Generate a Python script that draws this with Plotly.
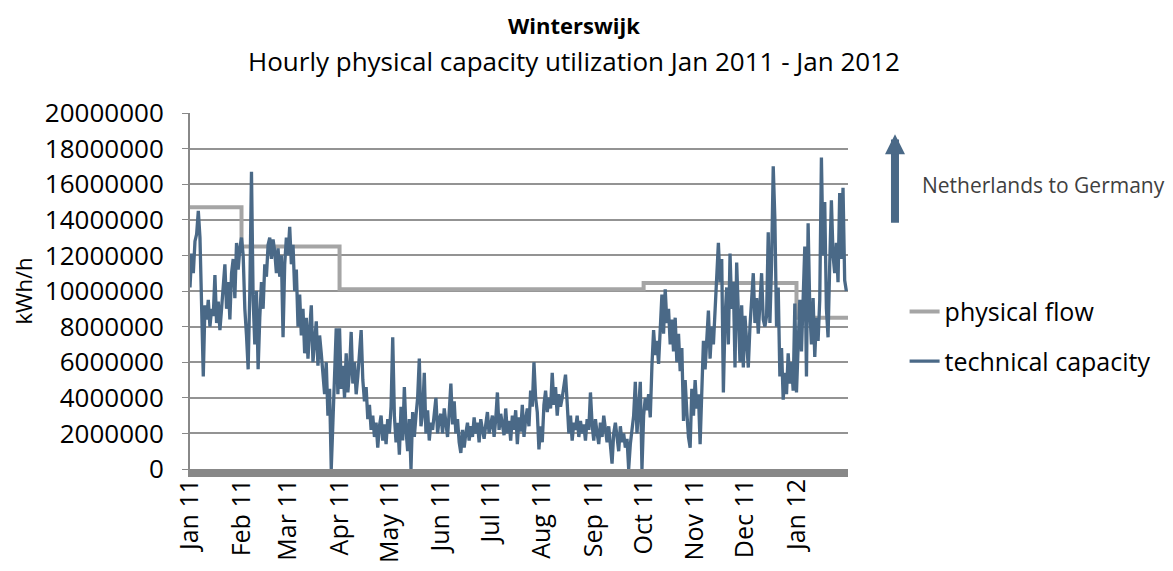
import pandas as pd
import plotly.graph_objects as go

# daily readings, million kWh/h, one list per month
jan11 = [10.2, 12.1, 11.0, 12.8, 13.2, 14.5, 13.0,
         8.0, 5.2, 9.2, 8.4, 9.5, 8.0, 9.0,
         8.6, 10.9, 8.2, 9.4, 7.8, 9.0, 10.2,
         11.5, 9.0, 10.5, 8.4, 11.0, 11.8, 9.6,
         12.7, 11.2, 12.4]
feb11 = [13.0, 12.0, 9.0, 7.5, 5.6, 10.0, 16.7,
         9.5, 7.0, 10.0, 5.6, 8.5, 10.5, 9.0,
         11.5, 10.8, 12.6, 13.0, 11.8, 12.9, 12.2,
         11.0, 12.4, 10.8, 12.0, 7.4, 11.5, 13.0]
mar11 = [12.0, 13.6, 11.5, 12.6, 10.0, 11.2, 8.0,
         9.8, 7.5, 9.0, 6.5, 8.5, 6.2, 7.8,
         9.2, 6.0, 7.0, 8.3, 5.8, 7.5, 6.5,
         5.5, 4.2, 6.0, 3.0, 4.5, 0.0, 2.6,
         5.0, 7.9, 4.2]
apr11 = [7.9, 4.5, 5.8, 4.0, 6.5, 4.3, 5.5,
         7.7, 4.8, 6.0, 4.2, 5.2, 6.5, 7.8,
         5.0, 3.8, 4.6, 2.8, 3.6, 2.2, 3.0,
         1.8, 2.6, 1.2, 2.4, 3.0, 1.6, 2.5,
         1.4, 2.8]
may11 = [2.0, 3.5, 7.4, 3.0, 1.5, 2.6, 0.8,
         3.5, 1.6, 4.6, 2.2, 1.0, 2.8, 0.0,
         3.2, 1.8, 3.0, 4.0, 6.2, 2.4, 3.1,
         5.4, 2.0, 3.3, 1.6, 2.6, 2.2, 3.0,
         4.0, 2.0, 2.8]
jun11 = [3.1, 2.0, 3.4, 2.6, 1.8, 3.2, 4.8,
         2.5, 3.8, 2.0, 2.8, 1.5, 0.9, 2.2,
         1.2, 2.0, 2.6, 1.6, 2.4, 1.8, 2.9,
         2.0, 2.6, 1.5, 2.8, 2.2, 1.7, 2.5,
         3.2, 2.0]
jul11 = [2.6, 3.0, 1.8, 2.8, 4.3, 2.2, 3.1,
         2.4, 1.9, 3.4, 2.0, 2.7, 1.6, 3.0,
         2.2, 3.3, 1.4, 2.9, 2.1, 3.6, 1.8,
         2.8, 3.4, 2.4, 4.4, 3.5, 6.0, 4.0,
         3.2, 1.1, 2.4]
aug11 = [1.5, 3.6, 4.4, 3.2, 4.0, 3.4, 5.4,
         3.6, 4.6, 3.0, 4.2, 3.5, 4.0, 4.8,
         5.3, 3.7, 2.0, 3.0, 1.6, 2.6, 2.2,
         3.0, 1.8, 2.7, 2.0, 2.5, 1.6, 2.8,
         2.2, 4.3, 2.5]
sep11 = [1.6, 2.8, 2.0, 1.4, 2.6, 1.8, 3.0,
         2.2, 1.5, 2.4, 1.2, 0.3, 2.0, 2.6,
         1.8, 1.0, 2.4, 1.5, 2.0, 1.2, 1.7,
         0.0, 1.4, 2.3, 3.0, 4.9, 2.0, 3.4,
         4.9, 0.0]
oct11 = [3.0, 4.0, 3.3, 4.2, 2.9, 5.8, 7.8,
         6.4, 7.2, 5.9, 8.0, 9.8, 7.6, 10.1,
         8.2, 9.0, 7.0, 8.4, 6.6, 8.5, 6.0,
         7.6, 5.5, 6.8, 2.7, 5.0, 3.2, 1.8,
         1.2, 4.5, 3.0]
nov11 = [5.0, 3.4, 4.2, 1.4, 4.8, 7.2, 5.6,
         7.5, 8.9, 6.2, 8.0, 7.0, 9.0, 11.0,
         12.7, 10.5, 11.8, 4.3, 8.5, 10.2, 7.0,
         12.1, 9.0, 10.5, 5.7, 11.6, 8.4, 6.0,
         9.2, 5.7]
dec11 = [8.6, 7.4, 5.7, 8.0, 9.5, 11.0, 8.2,
         9.6, 7.6, 9.0, 11.0, 8.4, 8.0, 8.6,
         13.3, 8.2, 11.5, 17.0, 14.0, 8.0, 10.2,
         5.2, 6.8, 3.9, 5.4, 4.2, 6.5, 4.8,
         6.0, 4.4, 9.3]
jan12 = [4.3, 7.0, 9.5, 6.6, 10.4, 12.5, 5.2,
         13.8, 9.0, 7.0, 9.6, 6.3, 8.5, 7.2,
         9.5, 17.5, 12.0, 15.0, 9.0, 7.4, 11.5,
         15.1, 12.0, 11.0, 12.7, 10.5, 15.5, 11.8,
         15.8, 10.6, 10.0]

# step line levels (million kWh/h)
step_dates = ['2011-01-01', '2011-02-01', '2011-04-01', '2011-10-01', '2012-01-01', '2012-02-01']
step_levels = [14.7, 12.5, 10.1, 10.45, 8.5, 8.5]

month_ticks = pd.date_range('2011-01-01', '2012-01-01', freq='MS')
month_labels = ['Jan 11', 'Feb 11', 'Mar 11', 'Apr 11', 'May 11', 'Jun 11', 'Jul 11',
                'Aug 11', 'Sep 11', 'Oct 11', 'Nov 11', 'Dec 11', 'Jan 12']

months = [jan11, feb11, mar11, apr11, may11, jun11, jul11, aug11, sep11, oct11, nov11, dec11, jan12]
daily = [v * 1e6 for m in months for v in m]
days = pd.date_range('2011-01-01', periods=len(daily), freq='D')

BLUE = '#4a6987'
GREY = '#a5a5a5'
FONT = 'Open Sans'

fig = go.Figure()
fig.add_trace(go.Scatter(x=step_dates, y=[v * 1e6 for v in step_levels], mode='lines',
                         line=dict(color=GREY, width=4, shape='hv'),
                         name='physical flow', legendgroup='a'))
fig.add_trace(go.Scatter(x=days, y=daily, mode='lines',
                         line=dict(color=BLUE, width=3.3),
                         name='technical capacity', legendgroup='b'))

# title lines
fig.add_annotation(x=0.5833, y=1.295, xref='paper', yref='paper', showarrow=False,
                   text='<b>Winterswijk</b>', font=dict(family=FONT, size=22, color='black'))
fig.add_annotation(x=0.5833, y=1.202, xref='paper', yref='paper', showarrow=False,
                   text='Hourly physical capacity utilization Jan 2011 - Jan 2012',
                   font=dict(family=FONT, size=26, color='black'))

# direction arrow + label
fig.add_annotation(x=1.0714, y=0.94, xref='paper', yref='paper', ax=0, ay=90,
                   showarrow=True, arrowhead=2, arrowsize=0.5, arrowwidth=8,
                   arrowcolor=BLUE, text='')
fig.add_annotation(x=1.11, y=0.842, xref='paper', yref='paper', xanchor='left',
                   showarrow=False, text='Netherlands to Germany',
                   font=dict(family=FONT, size=21, color='#404040'))

# the page sits 8px in from the window corner, so margins are offset by 8px
fig.update_layout(
    width=1173, height=571,
    margin=dict(l=182, r=333, t=105, b=110),
    plot_bgcolor='white', paper_bgcolor='white',
    font=dict(family=FONT, color='black'),
    legend=dict(x=1.086, y=0.506, xanchor='left', yanchor='top',
                font=dict(family=FONT, size=25, color='black'),
                tracegroupgap=14, traceorder='grouped', bgcolor='rgba(0,0,0,0)'),
    xaxis=dict(type='date', range=['2011-01-01', '2012-02-01'], automargin=False,
               tickvals=month_ticks, ticktext=month_labels, tickangle=-90,
               showgrid=False, showline=True, linewidth=8, linecolor='#888888',
               ticks='', ticklabelstandoff=-8,
               tickfont=dict(family=FONT, size=25, color='black')),
    yaxis=dict(range=[0, 20e6], dtick=2e6, tickformat='d', automargin=False,
               showgrid=True, gridcolor='#939393', gridwidth=2,
               showline=True, linecolor='#888888', linewidth=2,
               ticks='outside', ticklen=6, tickcolor='#888888',
               zeroline=False, ticklabelstandoff=13,
               tickfont=dict(family=FONT, size=26, color='black'),
               title=dict(text='kWh/h', font=dict(family=FONT, size=22, color='black'), standoff=14)),
)

fig.write_html('out.html')
